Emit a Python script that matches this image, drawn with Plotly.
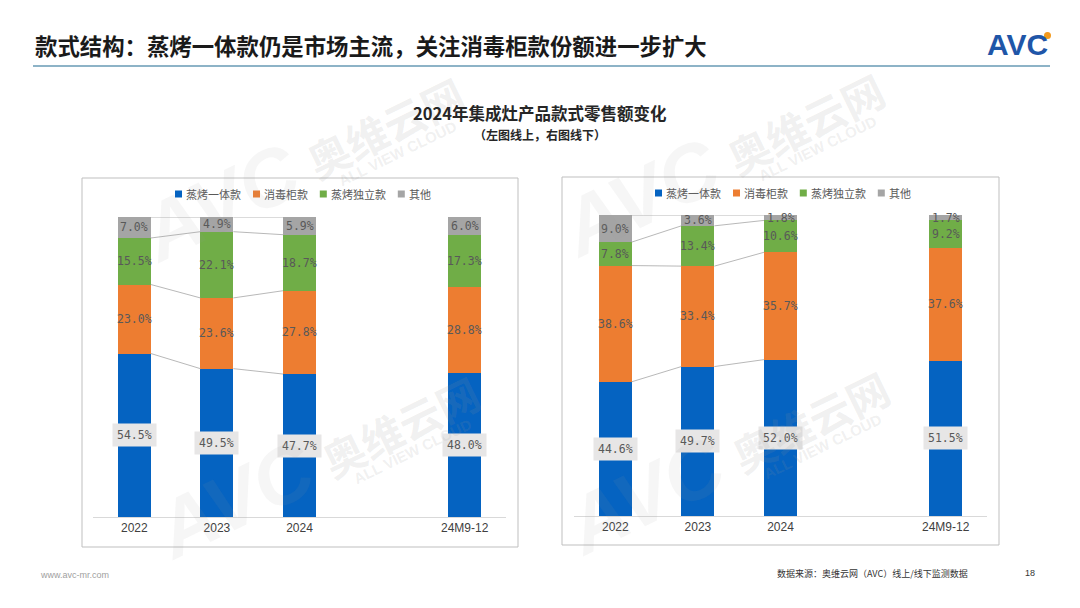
import plotly.graph_objects as go

W, H = 1080, 608

# categories (24M9-12 sits one empty slot to the right of 2024)
periods = ["2022", "2023", "2024", "24M9-12"]
x_pos = [0, 1, 2, 4]
series = ["蒸烤一体款", "消毒柜款", "蒸烤独立款", "其他"]
colors = ["#0563C1", "#ED7D31", "#70AD47", "#A5A5A5"]

# left chart: online share (%)
online_steam_oven = [54.5, 49.5, 47.7, 48.0]
online_disinfect = [23.0, 23.6, 27.8, 28.8]
online_separate = [15.5, 22.1, 18.7, 17.3]
online_other = [7.0, 4.9, 5.9, 6.0]

# right chart: offline share (%)
offline_steam_oven = [44.6, 49.7, 52.0, 51.5]
offline_disinfect = [38.6, 33.4, 35.7, 37.6]
offline_separate = [7.8, 13.4, 10.6, 9.2]
offline_other = [9.0, 3.6, 1.8, 1.7]

online = [online_steam_oven, online_disinfect, online_separate, online_other]
offline = [offline_steam_oven, offline_disinfect, offline_separate, offline_other]


def px(x):
    return x / W


def py(y):
    return 1 - y / H


CJK = "Noto Sans CJK SC"
BAR_W = 0.4

fig = go.Figure()
annotations = []
shapes = []


def add_chart(data, xa, ya):
    # stacked bars, normalised to 100% like the Excel chart
    for name, vals, col in zip(series, data, colors):
        fig.add_trace(go.Bar(x=x_pos, y=vals, name=name, marker_color=col,
                             marker_line_width=0, width=BAR_W,
                             xaxis=xa, yaxis=ya, showlegend=False))
    totals = [sum(col) for col in zip(*data)]
    # cumulative boundaries per column
    bounds = []
    for j in range(len(x_pos)):
        acc, b = 0, []
        for s in range(len(series)):
            acc += data[s][j] / totals[j] * 100
            b.append(acc)
        bounds.append(b)
    # connector lines between 2022-2023-2024
    for j in range(2):
        for s in range(len(series)):
            fig.add_trace(go.Scatter(
                x=[x_pos[j] + BAR_W / 2, x_pos[j + 1] - BAR_W / 2],
                y=[bounds[j][s], bounds[j + 1][s]],
                mode="lines", line=dict(color="#A6A6A6", width=0.8),
                xaxis=xa, yaxis=ya, showlegend=False, hoverinfo="skip"))
    # data labels
    for j in range(len(x_pos)):
        prev = 0
        for s in range(len(series)):
            mid = (prev + bounds[j][s]) / 2
            prev = bounds[j][s]
            ann = dict(x=x_pos[j], y=mid, xref=xa, yref=ya,
                       text=f"{data[s][j]:.1f}%", showarrow=False,
                       font=dict(family="DejaVu Sans Mono", size=11.5, color="#595959"))
            if s == 0:
                ann.update(bgcolor="#E7E6E6", borderpad=4)
            annotations.append(ann)


add_chart(online, "x", "y")
add_chart(offline, "x2", "y2")

axis_x = dict(range=[-0.5, 4.5], tickvals=x_pos, ticktext=periods,
              showline=True, linecolor="#D9D9D9", linewidth=1,
              showgrid=False, zeroline=False, ticks="",
              tickfont=dict(family="Liberation Sans", size=12, color="#404040"))
axis_y = dict(range=[0, 100], visible=False, showgrid=False, zeroline=False)

fig.update_layout(
    width=W, height=H,
    margin=dict(l=0, r=0, t=0, b=0),
    paper_bgcolor="white", plot_bgcolor="rgba(0,0,0,0)",
    barmode="stack", barnorm="percent", bargap=0,
    xaxis=dict(axis_x, domain=[px(93), px(506)], anchor="y"),
    yaxis=dict(axis_y, domain=[py(517), py(217)], anchor="x"),
    xaxis2=dict(axis_x, domain=[px(574), px(987)], anchor="y2"),
    yaxis2=dict(axis_y, domain=[py(516), py(215)], anchor="x2"),
    showlegend=False,
)

# chart frames
for x0, x1, y0, y1 in [(82, 518, 178, 547), (562, 999, 177, 545)]:
    shapes.append(dict(type="rect", xref="paper", yref="paper",
                       x0=px(x0), x1=px(x1), y0=py(y1), y1=py(y0),
                       line=dict(color="#BFBFBF", width=1), layer="below"))

# hand-made legends (small squares, tight spacing as in the original)
for start, yc in [(175, 194), (655, 193)]:
    x = start
    for name, col in zip(series, colors):
        shapes.append(dict(type="rect", xref="paper", yref="paper",
                           x0=px(x), x1=px(x + 7), y0=py(yc + 3.5), y1=py(yc - 3.5),
                           fillcolor=col, line_width=0))
        annotations.append(dict(x=px(x + 9), y=py(yc), xref="paper", yref="paper",
                                xanchor="left", yanchor="middle", showarrow=False,
                                text=name, font=dict(family=CJK, size=11, color="#595959")))
        x += 9 + len(name) * 11.2 + 13

# watermarks: big "AVC" + 奥维云网 / ALL VIEW CLOUD, tilted ~26 degrees
wm = "rgba(150,150,150,0.15)"
for cx, cy in [(385, 127), (805, 122), (400, 425), (810, 420)]:
    annotations.append(dict(x=px(cx), y=py(cy), xref="paper", yref="paper",
                            xanchor="center", yanchor="middle",
                            text="<b>奥维云网</b>", showarrow=False, textangle=-26,
                            font=dict(family=CJK, size=42, color=wm)))
    annotations.append(dict(x=px(cx + 12), y=py(cy + 26), xref="paper", yref="paper",
                            xanchor="center", yanchor="middle",
                            text="<b>ALL VIEW CLOUD</b>", showarrow=False, textangle=-26,
                            font=dict(family="Liberation Sans", size=15, color=wm)))
    annotations.append(dict(x=px(cx - 165), y=py(cy + 75), xref="paper", yref="paper",
                            xanchor="center", yanchor="middle",
                            text="<b><i>AVC</i></b>", showarrow=False, textangle=-26,
                            font=dict(family="Liberation Sans", size=80, color="rgba(150,150,150,0.09)")))

# page title, rule and logo
annotations += [
    dict(x=px(33), y=py(45), xref="paper", yref="paper", xanchor="left", yanchor="middle",
         text="<b>款式结构：蒸烤一体款仍是市场主流，关注消毒柜款份额进一步扩大</b>",
         showarrow=False, font=dict(family=CJK, size=22.4, color="#1A1A1A")),
    dict(x=px(1050), y=py(44), xref="paper", yref="paper", xanchor="right", yanchor="middle",
         text="<b>AVC</b>", showarrow=False,
         font=dict(family="Liberation Sans", size=30, color="#1F56A8")),
    dict(x=0.5, y=py(113), xref="paper", yref="paper", yanchor="middle",
         text="<b>2024年集成灶产品款式零售额变化</b>", showarrow=False,
         font=dict(family=CJK, size=16.5, color="#262626")),
    dict(x=0.5, y=py(134), xref="paper", yref="paper", yanchor="middle",
         text="<b>（左图线上，右图线下）</b>", showarrow=False,
         font=dict(family=CJK, size=12, color="#262626")),
    dict(x=px(38), y=py(575), xref="paper", yref="paper", xanchor="left", yanchor="middle",
         text="www.avc-mr.com", showarrow=False,
         font=dict(family="Liberation Sans", size=9, color="#A0A0A0")),
    dict(x=px(970), y=py(573), xref="paper", yref="paper", xanchor="right", yanchor="middle",
         text="数据来源：奥维云网（AVC）线上/线下监测数据", showarrow=False,
         font=dict(family=CJK, size=9, color="#333333")),
    dict(x=px(1037), y=py(573), xref="paper", yref="paper", yanchor="middle",
         text="18", showarrow=False,
         font=dict(family="Liberation Sans", size=9, color="#333333")),
]
shapes.append(dict(type="line", xref="paper", yref="paper",
                   x0=px(33), x1=px(1050), y0=py(66), y1=py(66),
                   line=dict(color="#8DB3C7", width=2)))
shapes.append(dict(type="circle", xref="paper", yref="paper",
                   x0=px(1044), x1=px(1051), y0=py(39), y1=py(32),
                   fillcolor="#F39A1E", line_width=0))

fig.update_layout(annotations=annotations, shapes=shapes)
# drop the page's default 8px body margin so the figure sits at the window corner
fig.write_html("out.html", config={"displayModeBar": False},
               post_script="document.body.style.margin='0';")
